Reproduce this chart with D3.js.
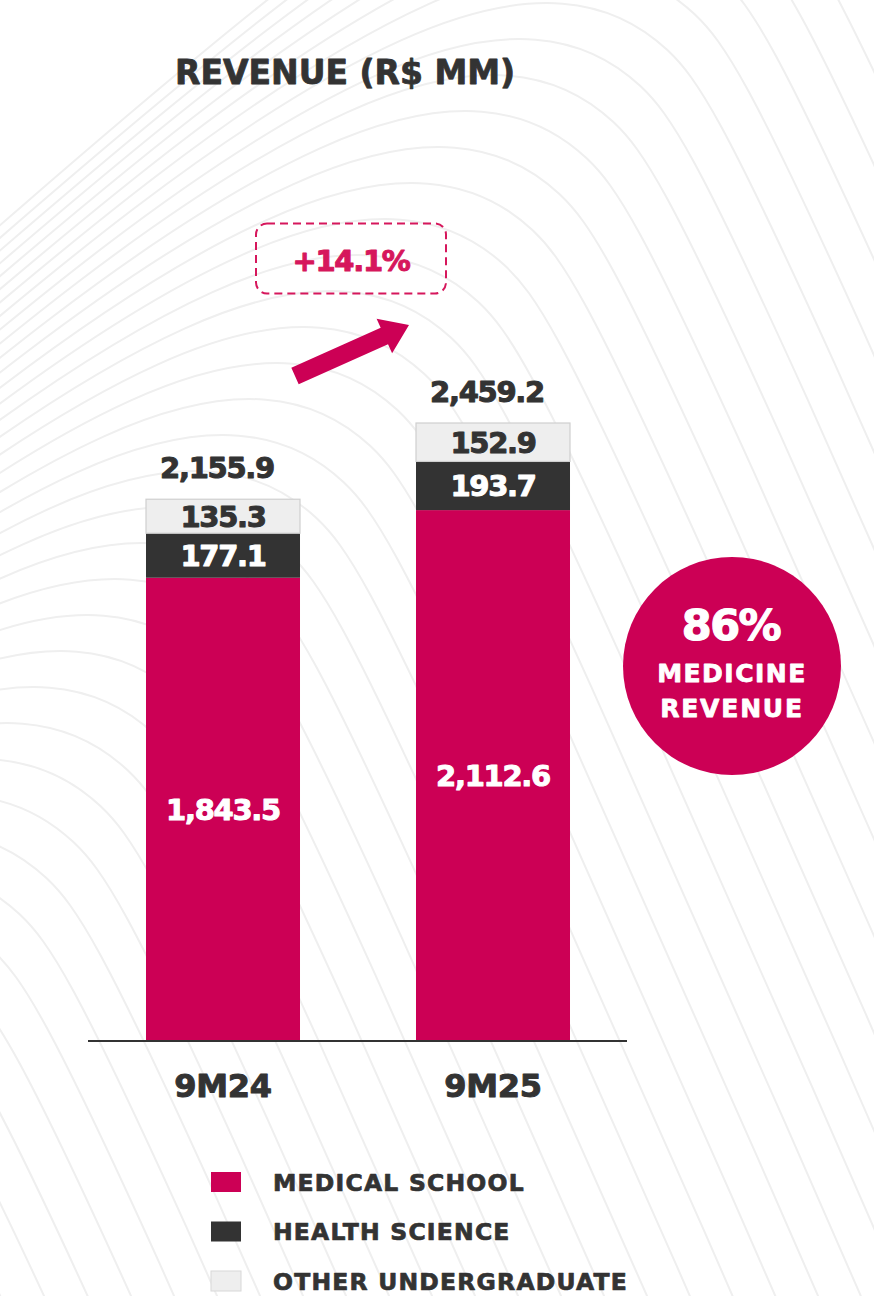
<!DOCTYPE html>
<html>
<head>
<meta charset="utf-8">
<script src="https://cdn.jsdelivr.net/npm/d3@7"></script>
<style>
  html, body { margin: 0; padding: 0; background: #ffffff; }
  svg { display: block; }
  text { font-family: "DejaVu Sans", "Noto Sans", sans-serif; font-weight: bold; paint-order: stroke fill; stroke-linejoin: round; }
</style>
</head>
<body>
<svg id="chart" width="874" height="1296"></svg>
<script>
// ---------------- DATA ----------------
const categories = ["9M24", "9M25"];
const medicalSchool = [1843.5, 2112.6];
const healthScience = [177.1, 193.7];
const otherUndergrad = [135.3, 152.9];
const totals = [2155.9, 2459.2];
const seriesKeys = ["medical", "health", "other"];
const seriesNames = ["MEDICAL SCHOOL", "HEALTH SCIENCE", "OTHER UNDERGRADUATE"];
const titleText = "REVENUE (R$ MM)";
const growthText = "+14.1%";
const shareLines = ["86%", "MEDICINE", "REVENUE"];

// ---------------- SETUP ----------------
const W = 874, H = 1296;
const svg = d3.select("#chart");
const fmt = d3.format(",.1f");
const colors = { medical: "#cc0055", health: "#333333", other: "#eeeeee" };
const textDark = "#333333";
const accent = "#d6175c";
const thick = (sel, c, w) => sel.attr("stroke", c).attr("stroke-width", w);

// background contour decoration
const bg = svg.append("g").attr("fill", "none").attr("stroke", "#efefef").attr("stroke-width", 2);
const shape = [[-800, 520], [-420, 190], [-150, 25], [0, 0], [100, 45], [180, 170], [760, 1500]];
const bgLine = d3.line().curve(d3.curveBasis);
d3.range(0, 38).forEach(k => {
  const px = 760 - k * 27, py = -260 + k * 36;
  bg.append("path").attr("d", bgLine(shape.map(([dx, dy]) => [px + dx, py + dy])));
});

// ---------------- SCALES ----------------
const x = d3.scaleBand().domain(categories).range([88, 628]).paddingInner(0.4296).paddingOuter(0.2148);
const y = d3.scaleLinear().domain([0, d3.max(totals)]).range([1041, 423]);

const rows = categories.map((c, i) => ({
  cat: c, medical: medicalSchool[i], health: healthScience[i], other: otherUndergrad[i], total: totals[i]
}));
const stacked = d3.stack().keys(seriesKeys)(rows);

// ---------------- BARS ----------------
const gBars = svg.append("g");
stacked.forEach(layer => {
  gBars.selectAll(null).data(layer).enter().append("rect")
    .attr("x", d => x(d.data.cat))
    .attr("y", d => y(d[1]))
    .attr("width", x.bandwidth())
    .attr("height", d => y(d[0]) - y(d[1]))
    .attr("fill", colors[layer.key])
    .attr("stroke", layer.key === "other" ? "#cfcfcf" : "none")
    .attr("stroke-width", layer.key === "other" ? 1.2 : 0);
});

// segment labels
const segStyle = { medical: "#ffffff", health: "#ffffff", other: textDark };
stacked.forEach(layer => {
  gBars.selectAll(null).data(layer).enter().append("text")
    .attr("x", d => x(d.data.cat) + x.bandwidth() / 2)
    .attr("y", d => (y(d[0]) + y(d[1])) / 2)
    .attr("dy", "0.36em")
    .attr("text-anchor", "middle")
    .attr("font-size", 29)
    .attr("letter-spacing", -1.3)
    .attr("fill", segStyle[layer.key])
    .call(thick, segStyle[layer.key], 1)
    .text(d => fmt(d.data[layer.key]));
});

// total labels
svg.append("g").selectAll("text").data(rows).enter().append("text")
  .attr("x", d => x(d.cat) + x.bandwidth() / 2 - 6)
  .attr("y", d => y(d.total) - 21)
  .attr("text-anchor", "middle")
  .attr("font-size", 29)
  .attr("letter-spacing", -1.3)
  .attr("fill", textDark)
  .call(thick, textDark, 1)
  .text(d => fmt(d.total));

// ---------------- AXIS ----------------
const xAxis = d3.axisBottom(x).tickSize(0).tickPadding(0);
const gx = svg.append("g").attr("transform", `translate(0,${y(0)})`).call(xAxis);
gx.select(".domain").attr("stroke", "#333333").attr("stroke-width", 2.2).attr("d", "M88,0H627");
gx.selectAll(".tick text")
  .attr("y", 56)
  .attr("dy", 0)
  .attr("font-size", 32)
  .attr("letter-spacing", -0.3)
  .attr("fill", textDark)
  .attr("stroke", textDark).attr("stroke-width", 1)
  .style("font-family", '"DejaVu Sans", sans-serif')
  .style("font-weight", "bold");

// ---------------- TITLE ----------------
svg.append("text")
  .attr("x", 175).attr("y", 84)
  .attr("font-size", 33)
  .attr("fill", textDark)
  .call(thick, textDark, 0.8)
  .text(titleText);

// ---------------- GROWTH ANNOTATION ----------------
svg.append("rect")
  .attr("x", 256).attr("y", 223.5).attr("width", 190).attr("height", 70)
  .attr("rx", 11).attr("ry", 11)
  .attr("fill", "none").attr("stroke", accent).attr("stroke-width", 2)
  .attr("stroke-dasharray", "8,5");
svg.append("text")
  .attr("x", 351).attr("y", 271)
  .attr("text-anchor", "middle")
  .attr("font-size", 29)
  .attr("letter-spacing", -1.3)
  .attr("fill", accent)
  .call(thick, accent, 1)
  .text(growthText);

// arrow
(function () {
  const tail = [295, 376], tip = [409, 325];
  const dx = tip[0] - tail[0], dy = tip[1] - tail[1];
  const L = Math.hypot(dx, dy);
  const u = [dx / L, dy / L], n = [-u[1], u[0]];
  const sw = 9, hw = 19, hl = 27;
  const neck = [tip[0] - u[0] * hl, tip[1] - u[1] * hl];
  const p = (b, s) => [b[0] + n[0] * s, b[1] + n[1] * s];
  const pts = [p(tail, sw), p(neck, sw), p(neck, hw), tip, p(neck, -hw), p(neck, -sw), p(tail, -sw)];
  svg.append("path").attr("d", d3.line()(pts) + "Z").attr("fill", "#cc0055");
})();

// ---------------- SHARE CIRCLE ----------------
svg.append("circle").attr("cx", 732).attr("cy", 666).attr("r", 109).attr("fill", "#cc0055");
svg.append("text").attr("x", 731).attr("y", 640).attr("text-anchor", "middle")
  .attr("font-size", 43).attr("letter-spacing", -1.5).attr("fill", "#fff")
  .call(thick, "#fff", 1.2).text(shareLines[0]);
svg.append("text").attr("x", 732).attr("y", 682).attr("text-anchor", "middle")
  .attr("font-size", 25).attr("letter-spacing", 1.5).attr("fill", "#fff")
  .call(thick, "#fff", 0.8).text(shareLines[1]);
svg.append("text").attr("x", 732).attr("y", 717).attr("text-anchor", "middle")
  .attr("font-size", 25).attr("letter-spacing", 1.8).attr("fill", "#fff")
  .call(thick, "#fff", 0.8).text(shareLines[2]);

// ---------------- LEGEND ----------------
const legend = svg.append("g");
const legY = d3.scalePoint().domain(seriesKeys).range([1182, 1281]);
seriesKeys.forEach((k, i) => {
  legend.append("rect")
    .attr("x", 211).attr("y", legY(k) - 10).attr("width", 30).attr("height", 20)
    .attr("fill", colors[k])
    .attr("stroke", k === "other" ? "#d8d8d8" : "none").attr("stroke-width", 1);
  legend.append("text")
    .attr("x", 273).attr("y", legY(k) + 8.5)
    .attr("font-size", 23.5).attr("letter-spacing", 1.2)
    .attr("fill", textDark)
    .call(thick, textDark, 0.7)
    .text(seriesNames[i]);
});
</script>
</body>
</html>
